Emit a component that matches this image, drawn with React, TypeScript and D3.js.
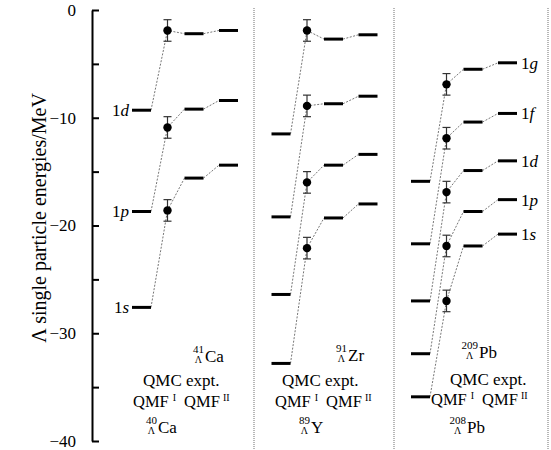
import React, { useEffect, useRef } from 'react';
import * as d3 from 'd3';

// Λ single particle energies (MeV), levels listed from 1s upward
const nuclei = ['Ca', 'Zr', 'Pb'];
const columns = ['qmc', 'expt', 'qmf1', 'qmf2'];

const qmcCa = [-27.6, -18.7, -9.3];
const exptCa = [-18.6, -10.9, -1.9];
const errCa = [1.0, 1.0, 1.0];
const qmf1Ca = [-15.6, -9.2, -2.2];
const qmf2Ca = [-14.4, -8.4, -1.9];

const qmcZr = [-32.8, -26.4, -19.2, -11.5];
const exptZr = [-22.1, -16.0, -8.9, -1.9];
const errZr = [1.0, 1.0, 1.0, 1.0];
const qmf1Zr = [-19.3, -14.4, -8.7, -2.7];
const qmf2Zr = [-18.0, -13.4, -8.0, -2.3];

const qmcPb = [-35.9, -31.9, -27.0, -21.7, -15.9];
const exptPb = [-27.0, -21.9, -16.9, -11.9, -6.9];
const errPb = [1.0, 1.0, 1.0, 1.0, 1.0];
const qmf1Pb = [-21.9, -18.7, -14.9, -10.4, -5.5];
const qmf2Pb = [-20.8, -17.6, -14.0, -9.6, -4.9];

const levelsCa = ['s', 'p', 'd'];
const levelsPb = ['s', 'p', 'd', 'f', 'g'];

const yTicks = [0, -10, -20, -30, -40];
const yMinor = [-5, -15, -25, -35];

const panels = [
  { qmc: qmcCa, expt: exptCa, err: errCa, qmf1: qmf1Ca, qmf2: qmf2Ca },
  { qmc: qmcZr, expt: exptZr, err: errZr, qmf1: qmf1Zr, qmf2: qmf2Zr },
  { qmc: qmcPb, expt: exptPb, err: errPb, qmf1: qmf1Pb, qmf2: qmf2Pb },
];

// nucleus names under each panel
const topMass = ['41', '91', '209'];
const topElem = ['Ca', 'Zr', 'Pb'];
const botMass = ['40', '89', '208'];
const botElem = ['Ca', 'Y', 'Pb'];

const FONT = 'Liberation Serif, Times New Roman, serif';
const serif = { fontFamily: FONT };
const axisX = 92;
const halfBar = 9.5;
const separators = [254, 394, 548];

// text placement per panel
const textPos = [
  { top: [205, 362], qmc: [143, 386], qmf: [133, 407], bot: [158, 433] },
  { top: [348, 361], qmc: [282, 386], qmf: [275, 407], bot: [311, 433] },
  { top: [479, 358], qmc: [450, 385], qmf: [431, 405], bot: [467, 433] },
];

const y = d3.scaleLinear().domain([-40, 0]).range([441, 10]);
const xPanel = d3.scalePoint<string>().domain(nuclei).range([141.5, 420.5]);
const xCol = d3.scaleOrdinal<string, number>().domain(columns).range([0, 26, 52.5, 87]);

const Nuc = ({ x, base, mass, elem }: { x: number; base: number; mass: string; elem: string }) => {
  const mw = mass.length * 5.5;
  return (
    <g style={serif}>
      <text x={x - 1} y={base - 9} fontSize={11} textAnchor="end">{mass}</text>
      <text x={x - 1 - mw / 2} y={base + 1} fontSize={10} textAnchor="middle">Λ</text>
      <text x={x} y={base} fontSize={17}>{elem}</text>
    </g>
  );
};

const App = () => {
  const axisRef = useRef<SVGGElement>(null);

  useEffect(() => {
    const g = d3.select(axisRef.current);
    g.selectAll('*').remove();
    g.append('g')
      .call(d3.axisLeft(y).tickValues(yTicks).tickSizeInner(-7).tickSizeOuter(0).tickPadding(16))
      .call(s => s.attr('font-family', null))
      .call(s => s.select('.domain').attr('stroke-width', 2))
      .call(s => s.selectAll('.tick line').attr('stroke-width', 2))
      .call(s => s.selectAll('.tick text').attr('font-size', 17).style('font-family', FONT));
    g.append('g')
      .call(d3.axisLeft(y).tickValues(yMinor).tickSizeInner(-7).tickSizeOuter(0).tickFormat(() => ''))
      .call(s => s.select('.domain').remove())
      .call(s => s.selectAll('.tick line').attr('stroke-width', 2));
  }, []);

  return (
    <svg width={551} height={450} style={{ position: 'absolute', left: 0, top: 0, background: '#fff', fontFamily: FONT }}>
      <g ref={axisRef} transform={`translate(${axisX},0)`} />
      <text
        transform="translate(46,218) rotate(-90)"
        textAnchor="middle"
        style={serif}
        fontSize={20}
      >
        Λ single particle energies/MeV
      </text>

      {separators.map(sx => (
        <line key={sx} x1={sx} x2={sx} y1={8} y2={450} stroke="#888" strokeWidth={1.2} strokeDasharray="1,1" />
      ))}

      {panels.map((p, i) => {
        const cx = (c: string) => (xPanel(nuclei[i]) as number) + xCol(c);
        return (
          <g key={i}>
            {p.qmc.map((v, k) => (
              <g key={k}>
                <polyline
                  points={[
                    [cx('qmc') + halfBar, y(v)],
                    [cx('expt'), y(p.expt[k])],
                    [cx('qmf1') - halfBar, y(p.qmf1[k])],
                  ].map(d => d.join(',')).join(' ')}
                  fill="none" stroke="#666" strokeWidth={0.9} strokeDasharray="2,1.5"
                />
                <line x1={cx('qmf1') + halfBar} x2={cx('qmf2') - halfBar} y1={y(p.qmf1[k])} y2={y(p.qmf2[k])}
                  stroke="#666" strokeWidth={0.9} strokeDasharray="2,1.5" />
              </g>
            ))}
            {(['qmc', 'qmf1', 'qmf2'] as const).map(c =>
              p[c].map((v, k) => (
                <line key={c + k} x1={cx(c) - halfBar} x2={cx(c) + halfBar} y1={y(v)} y2={y(v)}
                  stroke="#000" strokeWidth={3} />
              ))
            )}
            {p.expt.map((v, k) => (
              <g key={k}>
                <line x1={cx('expt')} x2={cx('expt')} y1={y(v - p.err[k])} y2={y(v + p.err[k])} stroke="#333" strokeWidth={1.2} />
                <line x1={cx('expt') - 4} x2={cx('expt') + 4} y1={y(v - p.err[k])} y2={y(v - p.err[k])} stroke="#333" strokeWidth={1.2} />
                <line x1={cx('expt') - 4} x2={cx('expt') + 4} y1={y(v + p.err[k])} y2={y(v + p.err[k])} stroke="#333" strokeWidth={1.2} />
                <circle cx={cx('expt')} cy={y(v)} r={4.2} fill="#000" />
              </g>
            ))}
          </g>
        );
      })}

      {levelsCa.map((l, k) => (
        <text key={l} x={(xPanel('Ca') as number) - halfBar - 3} y={y(qmcCa[k])} dy="0.35em"
          textAnchor="end" style={serif} fontSize={17}>
          1<tspan fontStyle="italic">{l}</tspan>
        </text>
      ))}
      {levelsPb.map((l, k) => (
        <text key={l} x={(xPanel('Pb') as number) + xCol('qmf2') + halfBar + 4} y={y(qmf2Pb[k])} dy="0.35em"
          style={serif} fontSize={17}>
          1<tspan fontStyle="italic">{l}</tspan>
        </text>
      ))}

      {textPos.map((t, i) => (
        <g key={i}>
          <Nuc x={t.top[0]} base={t.top[1]} mass={topMass[i]} elem={topElem[i]} />
          <text x={t.qmc[0]} y={t.qmc[1]} style={serif} fontSize={17}>QMC expt.</text>
          <text x={t.qmf[0]} y={t.qmf[1]} style={serif} fontSize={16.5}>
            QMF<tspan dx={4} dy={-6} fontSize={10}>I</tspan>
            <tspan dx={8} dy={6}>QMF</tspan>
            <tspan dx={3} dy={-6} fontSize={10}>II</tspan>
          </text>
          <Nuc x={t.bot[0]} base={t.bot[1]} mass={botMass[i]} elem={botElem[i]} />
        </g>
      ))}
    </svg>
  );
};

export default App;
